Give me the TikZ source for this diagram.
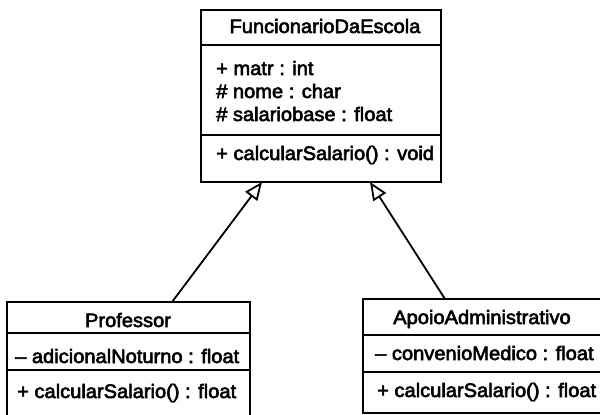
\documentclass[tikz,border=0pt]{standalone}
\usepackage{fontspec}
\setmainfont{Liberation Sans}
\newfontfamily\umlfont{Liberation Sans}[FakeBold=3, FakeStretch=1.03]
\usetikzlibrary{arrows.meta}
\begin{document}
\begin{tikzpicture}[x=1pt,y=-1pt,
  comp/.style={draw, line width=1.8pt, anchor=north west, inner sep=0pt, outer sep=0pt},
  txt/.style={font=\umlfont\fontsize{19.5}{23}\selectfont, inner sep=0pt, anchor=base west},
  ttl/.style={font=\umlfont\fontsize{19.5}{23}\selectfont, inner sep=0pt, anchor=base},
  gen/.style={line width=1.8pt, -{Triangle[open, length=18pt, width=15pt, line width=1.8pt]}}]
\useasboundingbox (0,0) rectangle (600,415);
\clip (0,0) rectangle (600,415);
% FuncionarioDaEscola
\node[comp, minimum width=240pt, minimum height=35pt] (ft) at (201,10) {};
\node[comp, minimum width=240pt, minimum height=90pt] (fa) at (201,45) {};
\node[comp, minimum width=240pt, minimum height=47pt] (fm) at (201,135) {};
\node[ttl] (ftt) at (325,33) {FuncionarioDaEscola};
\node[txt] (fa1) at (216,75) {+ matr : int};
\node[txt] (fa2) at (216,98) {\# nome : char};
\node[txt] (fa3) at (216,121) {\# salariobase : float};
\node[txt] (fm1) at (216,160) {+ calcularSalario() : void};
% Professor
\node[comp, minimum width=243pt, minimum height=31pt] (pt) at (7,302) {};
\node[comp, minimum width=243pt, minimum height=37pt] (pa) at (7,333) {};
\node[comp, minimum width=243pt, minimum height=60pt] (pm) at (7,370) {};
\node[ttl] (ptt) at (128,327) {Professor};
\node[txt] (pa1) at (15,363) {– adicionalNoturno : float};
\node[txt] (pm1) at (17,398) {+ calcularSalario() : float};
% ApoioAdministrativo
\node[comp, minimum width=240pt, minimum height=36pt] (at) at (363,299) {};
\node[comp, minimum width=240pt, minimum height=37pt] (aa) at (363,335) {};
\node[comp, minimum width=240pt, minimum height=41pt] (am) at (363,372) {};
\node[ttl] (att) at (482,324) {ApoioAdministrativo};
\node[txt] (aa1) at (375,360) {– convenioMedico : float};
\node[txt] (am1) at (377,397) {+ calcularSalario() : float};
% generalizations
\coordinate (p1) at (172,302);
\coordinate (f1) at (262,182);
\coordinate (a1) at (445,299);
\coordinate (f2) at (370,182);
\draw[gen] (p1) -- (f1);
\draw[gen] (a1) -- (f2);
\end{tikzpicture}
\end{document}
